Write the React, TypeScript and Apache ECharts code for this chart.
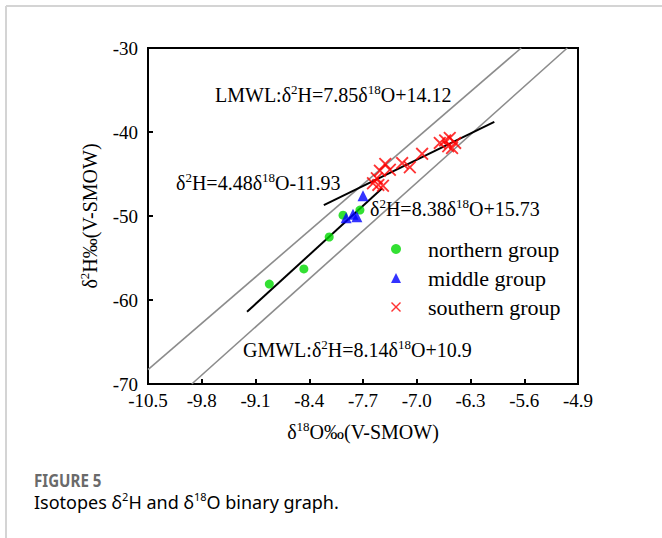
import React, { useEffect, useRef } from "react";
import * as echarts from "echarts";

// ---- data ----
const seriesNames = ["northern group", "middle group", "southern group"];

const northern: number[][] = [
  [-8.92, -58.1],
  [-8.47, -56.3],
  [-8.14, -52.5],
  [-7.96, -49.9],
  [-7.74, -49.3],
];

const middle: number[][] = [
  [-7.7, -47.6],
  [-7.92, -50.2],
  [-7.83, -49.8],
  [-7.78, -50.1],
];

const southern: number[][] = [
  [-7.57, -46.1],
  [-7.52, -45.5],
  [-7.48, -44.6],
  [-7.41, -43.8],
  [-7.35, -44.5],
  [-7.5, -46.3],
  [-7.44, -46.4],
  [-7.19, -43.7],
  [-7.09, -44.2],
  [-6.93, -42.6],
  [-6.7, -41.3],
  [-6.63, -41.0],
  [-6.59, -41.7],
  [-6.54, -41.9],
  [-6.5, -41.3],
  [-6.57, -40.7],
];

// line end points
const lmwlLine: number[][] = [
  [-10.5, -68.3],
  [-5.64, -30],
];
const gmwlLine: number[][] = [
  [-9.93, -70],
  [-5.04, -30],
];
const fitSteep: number[][] = [
  [-9.21, -61.4],
  [-7.45, -46.7],
];
const fitShallow: number[][] = [
  [-8.21, -48.7],
  [-5.99, -38.8],
];

const xMin = -10.5;
const xMax = -4.9;
const xStep = 0.7;
const yMin = -70;
const yMax = -30;
const yStep = 10;

const SERIF = '"Liberation Serif", "Times New Roman", serif';
const SANS = '"Noto Sans", "Open Sans", sans-serif';
const crossPath =
  "path://M0,1L1,0L5,4L9,0L10,1L6,5L10,9L9,10L5,6L1,10L0,9L4,5Z";

const richSerif = (size: number) => ({
  n: { fontSize: size, fontFamily: SERIF, color: "#000", lineHeight: 24 },
  s: {
    fontSize: 13,
    fontFamily: SERIF,
    color: "#000",
    lineHeight: 14,
    verticalAlign: "top",
  },
});

export default function App() {
  const ref = useRef<HTMLDivElement>(null);

  useEffect(() => {
    if (!ref.current) return;
    const chart = echarts.init(ref.current, undefined, { renderer: "svg" });

    const annotation = (text: string, x: number, y: number) => ({
      type: "text",
      x,
      y,
      z: 10,
      style: {
        text,
        rich: richSerif(20),
        align: "left",
        verticalAlign: "middle",
      },
    });

    const lineSeries = (data: number[][], color: string, width: number) => ({
      type: "line",
      data,
      showSymbol: false,
      symbol: "none",
      silent: true,
      lineStyle: { color, width },
      z: 1,
    });

    chart.setOption({
      animation: false,
      backgroundColor: "#fff",
      grid: {
        left: 148,
        top: 48,
        width: 430,
        height: 336,
        show: true,
        borderColor: "#000",
        borderWidth: 2,
        backgroundColor: "transparent",
      },
      xAxis: {
        type: "value",
        min: xMin,
        max: xMax,
        interval: xStep,
        splitLine: { show: false },
        axisLine: { show: true, onZero: false, lineStyle: { color: "#000", width: 2 } },
        axisTick: { show: true, inside: true, length: 5, lineStyle: { color: "#000", width: 2 } },
        axisLabel: {
          color: "#000",
          fontFamily: SERIF,
          fontSize: 19,
          margin: 7,
          formatter: (v: number) => v.toFixed(1),
        },
        name: "{n|δ}{s|18}{n|O‰(V-SMOW)}",
        nameLocation: "middle",
        nameGap: 36,
        nameTextStyle: { rich: richSerif(20) },
      },
      yAxis: {
        type: "value",
        min: yMin,
        max: yMax,
        interval: yStep,
        splitLine: { show: false },
        axisLine: { show: true, onZero: false, lineStyle: { color: "#000", width: 2 } },
        axisTick: { show: true, inside: true, length: 5, lineStyle: { color: "#000", width: 2 } },
        axisLabel: {
          color: "#000",
          fontFamily: SERIF,
          fontSize: 19,
          margin: 10,
        },
        name: "{n|δ}{s|2}{n|H‰(V-SMOW)}",
        nameLocation: "middle",
        nameRotate: 90,
        nameGap: 46,
        nameTextStyle: { rich: richSerif(20) },
      },
      legend: {
        data: seriesNames,
        orient: "vertical",
        left: 391,
        top: 238,
        padding: 0,
        itemWidth: 10,
        itemHeight: 10,
        itemGap: 7,
        textStyle: {
          fontFamily: SERIF,
          fontSize: 22,
          color: "#000",
          lineHeight: 22,
          padding: [0, 0, 0, 22],
        },
      },
      series: [
        lineSeries(lmwlLine, "#8c8c8c", 1.6),
        lineSeries(gmwlLine, "#8c8c8c", 1.6),
        lineSeries(fitSteep, "#000", 2),
        lineSeries(fitShallow, "#000", 2),
        {
          name: seriesNames[0],
          type: "scatter",
          data: northern,
          symbol: "circle",
          symbolSize: 9,
          itemStyle: { color: "#00d800" },
          z: 3,
        },
        {
          name: seriesNames[1],
          type: "scatter",
          data: middle,
          symbol: "triangle",
          symbolSize: 11,
          itemStyle: { color: "#0000ff" },
          z: 3,
        },
        {
          name: seriesNames[2],
          type: "scatter",
          data: southern,
          symbol: crossPath,
          symbolSize: 13,
          itemStyle: { color: "#ff0000" },
          z: 4,
        },
      ],
      graphic: [
        {
          type: "line",
          shape: { x1: 6, y1: 6, x2: 662, y2: 6 },
          style: { stroke: "#d4d4d4", lineWidth: 2 },
        },
        {
          type: "line",
          shape: { x1: 6, y1: 6, x2: 6, y2: 538 },
          style: { stroke: "#d4d4d4", lineWidth: 2 },
        },
        annotation("{n|LMWL:δ}{s|2}{n|H=7.85δ}{s|18}{n|O+14.12}", 215, 95),
        annotation("{n|δ}{s|2}{n|H=4.48δ}{s|18}{n|O-11.93}", 176, 183),
        annotation("{n|δ}{s|2}{n|H=8.38δ}{s|18}{n|O+15.73}", 370, 209),
        annotation("{n|GMWL:δ}{s|2}{n|H=8.14δ}{s|18}{n|O+10.9}", 243, 350),
        {
          type: "text",
          x: 34,
          y: 480,
          scaleX: 0.84,
          style: {
            text: "FIGURE 5",
            fontFamily: SANS,
            fontWeight: "bold",
            fontSize: 18,
            fill: "#6a6a6a",
            verticalAlign: "middle",
          },
        },
        {
          type: "text",
          x: 34,
          y: 502,
          style: {
            text: "{n|Isotopes δ}{s|2}{n|H and δ}{s|18}{n|O binary graph.}",
            verticalAlign: "middle",
            rich: {
              n: { fontFamily: SANS, fontSize: 18, color: "#7a7a7a", lineHeight: 22 },
              s: {
                fontFamily: SANS,
                fontSize: 11,
                color: "#7a7a7a",
                lineHeight: 14,
                verticalAlign: "top",
              },
            },
          },
        },
      ],
    });

    return () => chart.dispose();
  }, []);

  return (
    <div
      ref={ref}
      style={{
        position: "fixed",
        left: 0,
        top: 0,
        width: 662,
        height: 538,
        background: "#fff",
      }}
    />
  );
}
